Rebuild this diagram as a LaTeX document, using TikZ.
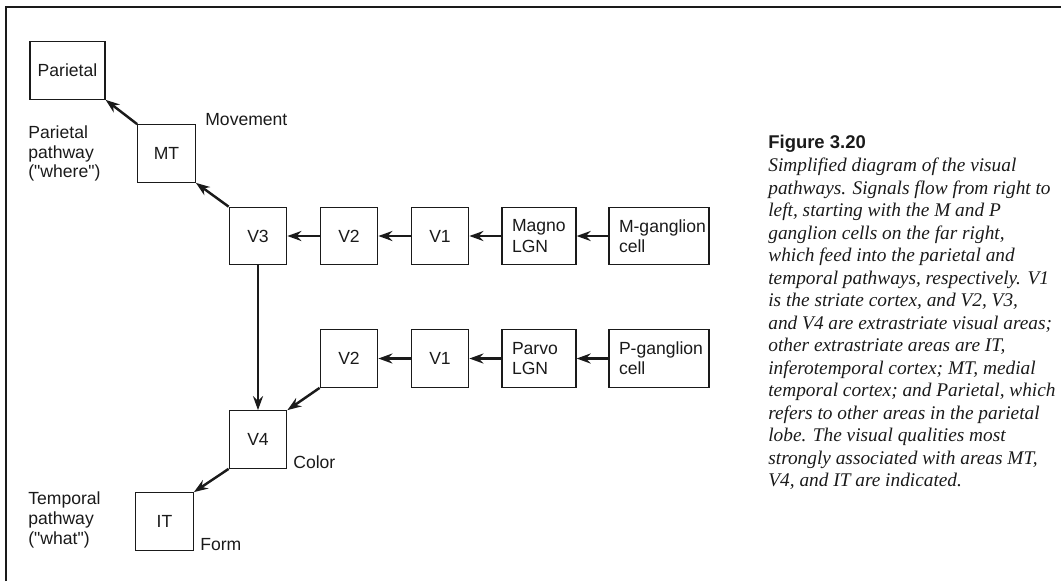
\documentclass[tikz,border=0pt]{standalone}
\usepackage{fontspec}
\setmainfont{Liberation Sans}
\newfontfamily\capserif{Liberation Serif}
\usetikzlibrary{arrows.meta}
\definecolor{figink}{HTML}{1A1A1A}
\tikzset{
  bx/.style={draw=figink, line width=0.7pt, minimum width=1.15cm, minimum height=1.15cm, inner sep=0pt, font=\fontsize{10}{11.5}\selectfont, text=figink},
  txtbx/.style={bx, align=left, inner xsep=0.2cm, text width=#1},
  arr/.style={-{Stealth[length=2.8mm, width=2mm]}, line width=1.4pt, draw=figink},
  lbl/.style={anchor=west, align=left, inner sep=0pt, font=\fontsize{10}{11.3}\selectfont, text=figink},
  frm/.style={line width=1pt, draw=figink},
}
\begin{document}
\begin{tikzpicture}
    \useasboundingbox (0,0) rectangle (21.22,11.62);
    \draw[frm] (0.12,0) -- (0.12,11.48) -- (21.22,11.48);
    \node[bx, minimum width=1.5cm] (par) at (1.35,10.21) {Parietal};
    \node[bx] (mt) at (3.33,8.55) {MT};
    \node[bx] (v3) at (5.16,6.90) {V3};
    \node[bx] (v2m) at (6.98,6.90) {V2};
    \node[bx] (v1m) at (8.80,6.90) {V1};
    \node[txtbx=1.08cm] (magno) at (10.78,6.90) {Magno\\LGN};
    \node[txtbx=1.6cm] (mgc) at (13.18,6.90) {\mbox{M-ganglion}\\cell};
    \node[bx] (v2p) at (6.98,4.45) {V2};
    \node[bx] (v1p) at (8.80,4.45) {V1};
    \node[txtbx=1.08cm] (parvo) at (10.78,4.45) {Parvo\\LGN};
    \node[txtbx=1.6cm] (pgc) at (13.18,4.45) {\mbox{P-ganglion}\\cell};
    \node[bx] (v4) at (5.16,2.83) {V4};
    \node[bx] (it) at (3.29,1.19) {IT};
    \node[lbl] (movement) at (4.10,9.22) {Movement};
    \node[lbl] (ppath) at (0.56,8.55) {Parietal\\pathway\\(\textquotedbl where\textquotedbl)};
    \node[lbl] (color) at (5.86,2.38) {Color};
    \node[lbl] (form) at (4.00,0.72) {Form};
    \node[lbl] (tpath) at (0.56,1.22) {Temporal\\pathway\\(\textquotedbl what\textquotedbl)};
    \node[anchor=base west, inner sep=0pt, text=figink, font=\bfseries\fontsize{10.5}{12}\selectfont] (fig) at (15.36,8.66) {Figure 3.20};
    \node[anchor=north west, inner sep=0pt, align=left, text=figink, font=\capserif\itshape\fontsize{11}{12.8}\selectfont] (cap) at (15.36,8.46) {Simplified diagram of the visual\\pathways. Signals flow from right to\\left, starting with the M and P\\ganglion cells on the far right,\\which feed into the parietal and\\temporal pathways, respectively. V1\\is the striate cortex, and V2, V3,\\and V4 are extrastriate visual areas;\\other extrastriate areas are IT,\\inferotemporal cortex; MT, medial\\temporal cortex; and Parietal, which\\refers to other areas in the parietal\\lobe. The visual qualities most\\strongly associated with areas MT,\\V4, and IT are indicated.};
    \draw[arr] (mgc) -- (magno); \draw[arr] (magno) -- (v1m); \draw[arr] (v1m) -- (v2m); \draw[arr] (v2m) -- (v3);
    \draw[arr] (pgc) -- (parvo); \draw[arr] (parvo) -- (v1p); \draw[arr] (v1p) -- (v2p);
    \draw[arr] (v3.north west) -- (mt.south east); \draw[arr] (mt.north west) -- (par.south east);
    \draw[arr] (v3) -- (v4); \draw[arr] (v2p.south west) -- (v4.north east);
    \draw[arr] (v4.south west) -- (it.north east);
  \end{tikzpicture}
\end{document}
